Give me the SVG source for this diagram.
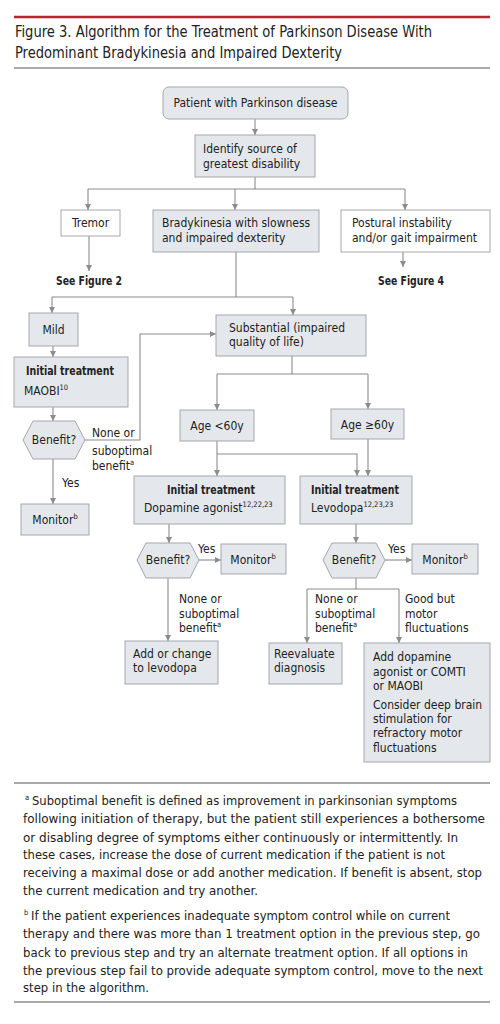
<svg xmlns="http://www.w3.org/2000/svg" width="500" height="1024" viewBox="0 0 500 1024">
<style>
text{font-family:"DejaVu Sans Condensed","DejaVu Sans","Liberation Sans",sans-serif;fill:#222;}
.t{font-size:12px;}
.b{font-weight:bold;}
.c{text-anchor:middle;}
.title{font-size:15.5px;}
.fn{font-size:13px;}
.sup{font-size:7.5px;}
.box{fill:#e4e8ec;stroke:#a3a7ab;stroke-width:1;}
.wbox{fill:#fff;stroke:#a3a7ab;stroke-width:1;}
.con path{fill:none;stroke:#8c8c8c;stroke-width:1.1;}
</style>
<defs>
<marker id="ah" markerUnits="userSpaceOnUse" markerWidth="7" markerHeight="7" refX="6" refY="3" orient="auto">
<path d="M0,0 L6,3 L0,6 Z" fill="#8c8c8c"/>
</marker>
</defs>
<rect width="500" height="1024" fill="#fff"/>
<g id="header">
<line x1="14" y1="17" x2="490" y2="17" stroke="#b8232f" stroke-width="2.5"/>
<text class="title" x="15" y="37" textLength="417" lengthAdjust="spacingAndGlyphs">Figure 3. Algorithm for the Treatment of Parkinson Disease With</text>
<text class="title" x="15" y="58" textLength="327" lengthAdjust="spacingAndGlyphs">Predominant Bradykinesia and Impaired Dexterity</text>
<line x1="14" y1="68" x2="490" y2="68" stroke="#555" stroke-width="1"/>
</g>
<g class="con" id="connectors">
<path d="M255,119 V135" marker-end="url(#ah)"/>
<path d="M255,177 V189 M88,189 H405"/>
<path d="M88,189 V210" marker-end="url(#ah)"/>
<path d="M235,189 V210" marker-end="url(#ah)"/>
<path d="M405,189 V210" marker-end="url(#ah)"/>
<path d="M89,236 V271" marker-end="url(#ah)"/>
<path d="M403,252 V267" marker-end="url(#ah)"/>
<path d="M236,252 V297 M52,297 H293"/>
<path d="M52,297 V313" marker-end="url(#ah)"/>
<path d="M293,297 V315" marker-end="url(#ah)"/>
<path d="M53,346 V357" marker-end="url(#ah)"/>
<path d="M53,407 V421" marker-end="url(#ah)"/>
<path d="M53,459 V504" marker-end="url(#ah)"/>
<path d="M85,440 H140 V334 H216" marker-end="url(#ah)"/>
<path d="M292,356 V374 M217,374 H368"/>
<path d="M217,374 V410" marker-end="url(#ah)"/>
<path d="M368,374 V409" marker-end="url(#ah)"/>
<path d="M217,441 V476" marker-end="url(#ah)"/>
<path d="M217,454 H357 V476" marker-end="url(#ah)"/>
<path d="M368,439 V476" marker-end="url(#ah)"/>
<path d="M169,524 V543" marker-end="url(#ah)"/>
<path d="M356,524 V543" marker-end="url(#ah)"/>
<path d="M199,560 H221" marker-end="url(#ah)"/>
<path d="M168,578 V641" marker-end="url(#ah)"/>
<path d="M385,560 H412" marker-end="url(#ah)"/>
<path d="M356,578 V589 M307,589 H399"/>
<path d="M307,589 V643" marker-end="url(#ah)"/>
<path d="M399,589 V643" marker-end="url(#ah)"/>
</g>
<g id="patient">
<rect class="box" x="163" y="87" width="185" height="32" rx="6"/>
<text class="t c" x="255.500" y="107">Patient with Parkinson disease</text>
</g>
<g id="identify">
<rect class="box" x="195" y="135" width="120" height="42"/>
<text class="t" x="203" y="153">Identify source of</text>
<text class="t" x="203" y="168">greatest disability</text>
</g>
<g id="tremor">
<rect class="wbox" x="61" y="210" width="59" height="26"/>
<text class="t c" x="90.500" y="227">Tremor</text>
</g>
<g id="see2"><text class="t b" x="56" y="285" textLength="66" lengthAdjust="spacingAndGlyphs">See Figure 2</text></g>
<g id="brady">
<rect class="box" x="153" y="210" width="166" height="42"/>
<text class="t" x="162" y="227">Bradykinesia with slowness</text>
<text class="t" x="162" y="242">and impaired dexterity</text>
</g>
<g id="postural">
<rect class="wbox" x="341" y="210" width="149" height="42"/>
<text class="t" x="352" y="227">Postural instability</text>
<text class="t" x="352" y="242">and/or gait impairment</text>
</g>
<g id="see4"><text class="t b" x="378" y="285" textLength="66" lengthAdjust="spacingAndGlyphs">See Figure 4</text></g>
<g id="mild">
<rect class="box" x="29" y="313" width="49" height="33"/>
<text class="t c" x="53.500" y="334">Mild</text>
</g>
<g id="substantial">
<rect class="box" x="216" y="315" width="150" height="41"/>
<text class="t" x="229" y="332">Substantial (impaired</text>
<text class="t" x="229" y="346">quality of life)</text>
</g>
<g id="maobi">
<rect class="box" x="14" y="357" width="114" height="50"/>
<text class="t b" x="26" y="375" textLength="88" lengthAdjust="spacingAndGlyphs">Initial treatment</text>
<text class="t" x="24" y="395">MAOBI<tspan class="sup" dy="-5">10</tspan></text>
</g>
<g id="benefit1">
<polygon class="box" points="23,440 33,421 75,421 85,440 75,459 33,459"/>
<text class="t c" x="54" y="444">Benefit?</text>
</g>
<g id="lbl1">
<text class="t" x="92" y="437">None or</text>
<text class="t" x="92" y="455">suboptimal</text>
<text class="t" x="92" y="470">benefit<tspan class="sup" dy="-5">a</tspan></text>
<text class="t" x="62" y="487">Yes</text>
</g>
<g id="monitor1">
<rect class="box" x="21" y="504" width="68" height="31"/>
<text class="t c" x="55" y="524">Monitor<tspan class="sup" dy="-5">b</tspan></text>
</g>
<g id="age1">
<rect class="box" x="180" y="410" width="74" height="31"/>
<text class="t c" x="217" y="430">Age &lt;60y</text>
</g>
<g id="age2">
<rect class="box" x="331" y="409" width="73" height="30"/>
<text class="t c" x="367.500" y="429">Age ≥60y</text>
</g>
<g id="dopamine">
<rect class="box" x="134" y="476" width="151" height="48"/>
<text class="t b" x="167" y="494" textLength="88" lengthAdjust="spacingAndGlyphs">Initial treatment</text>
<text class="t" x="144" y="512">Dopamine agonist<tspan class="sup" dy="-5">12,22,23</tspan></text>
</g>
<g id="levodopa">
<rect class="box" x="300" y="476" width="112" height="48"/>
<text class="t b" x="311" y="494" textLength="88" lengthAdjust="spacingAndGlyphs">Initial treatment</text>
<text class="t" x="311" y="512">Levodopa<tspan class="sup" dy="-5">12,23,23</tspan></text>
</g>
<g id="benefit2">
<polygon class="box" points="137,560 146,543 190,543 199,560 190,578 146,578"/>
<text class="t c" x="168" y="564">Benefit?</text>
</g>
<g id="monitor2">
<rect class="box" x="221" y="544" width="65" height="30"/>
<text class="t c" x="253" y="564">Monitor<tspan class="sup" dy="-5">b</tspan></text>
</g>
<g id="benefit3">
<polygon class="box" points="323,560 332,543 376,543 385,560 376,578 332,578"/>
<text class="t c" x="354" y="564">Benefit?</text>
</g>
<g id="monitor3">
<rect class="box" x="412" y="544" width="66" height="30"/>
<text class="t c" x="445" y="564">Monitor<tspan class="sup" dy="-5">b</tspan></text>
</g>
<g id="lbl2">
<text class="t" x="198" y="553">Yes</text>
<text class="t" x="388" y="553">Yes</text>
<text class="t" x="179" y="603">None or</text>
<text class="t" x="179" y="618">suboptimal</text>
<text class="t" x="179" y="632">benefit<tspan class="sup" dy="-5">a</tspan></text>
<text class="t" x="315" y="603">None or</text>
<text class="t" x="315" y="618">suboptimal</text>
<text class="t" x="315" y="632">benefit<tspan class="sup" dy="-5">a</tspan></text>
<text class="t" x="405" y="603">Good but</text>
<text class="t" x="405" y="618">motor</text>
<text class="t" x="405" y="632">fluctuations</text>
</g>
<g id="addchange">
<rect class="box" x="125" y="641" width="93" height="43"/>
<text class="t" x="133" y="658">Add or change</text>
<text class="t" x="133" y="672">to levodopa</text>
</g>
<g id="reevaluate">
<rect class="box" x="269" y="643" width="73" height="41"/>
<text class="t" x="274" y="658">Reevaluate</text>
<text class="t" x="274" y="672">diagnosis</text>
</g>
<g id="adddopa">
<rect class="box" x="364" y="643" width="126" height="119"/>
<text class="t" x="373" y="661">Add dopamine</text>
<text class="t" x="373" y="676">agonist or COMTI</text>
<text class="t" x="373" y="690">or MAOBI</text>
<text class="t" x="373" y="709">Consider deep brain</text>
<text class="t" x="373" y="723">stimulation for</text>
<text class="t" x="373" y="737">refractory motor</text>
<text class="t" x="373" y="752">fluctuations</text>
</g>
<g id="footnotes">
<line x1="14" y1="783" x2="490" y2="783" stroke="#555" stroke-width="1.2"/>
<text class="sup" x="25" y="800">a</text>
<text class="fn" x="32" y="805" textLength="425" lengthAdjust="spacingAndGlyphs">Suboptimal benefit is defined as improvement in parkinsonian symptoms</text>
<text class="fn" x="23" y="823" textLength="462" lengthAdjust="spacingAndGlyphs">following initiation of therapy, but the patient still experiences a bothersome</text>
<text class="fn" x="23" y="842" textLength="435" lengthAdjust="spacingAndGlyphs">or disabling degree of symptoms either continuously or intermittently. In</text>
<text class="fn" x="23" y="859" textLength="422" lengthAdjust="spacingAndGlyphs">these cases, increase the dose of current medication if the patient is not</text>
<text class="fn" x="23" y="877" textLength="459" lengthAdjust="spacingAndGlyphs">receiving a maximal dose or add another medication. If benefit is absent, stop</text>
<text class="fn" x="23" y="895" textLength="235" lengthAdjust="spacingAndGlyphs">the current medication and try another.</text>
<text class="sup" x="24" y="915">b</text>
<text class="fn" x="31" y="920" textLength="419" lengthAdjust="spacingAndGlyphs">If the patient experiences inadequate symptom control while on current</text>
<text class="fn" x="23" y="938" textLength="457" lengthAdjust="spacingAndGlyphs">therapy and there was more than 1 treatment option in the previous step, go</text>
<text class="fn" x="23" y="957" textLength="445" lengthAdjust="spacingAndGlyphs">back to previous step and try an alternate treatment option. If all options in</text>
<text class="fn" x="23" y="975" textLength="460" lengthAdjust="spacingAndGlyphs">the previous step fail to provide adequate symptom control, move to the next</text>
<text class="fn" x="23" y="992" textLength="126" lengthAdjust="spacingAndGlyphs">step in the algorithm.</text>
<line x1="14" y1="1002" x2="490" y2="1002" stroke="#555" stroke-width="1.2"/>
</g>
</svg>
